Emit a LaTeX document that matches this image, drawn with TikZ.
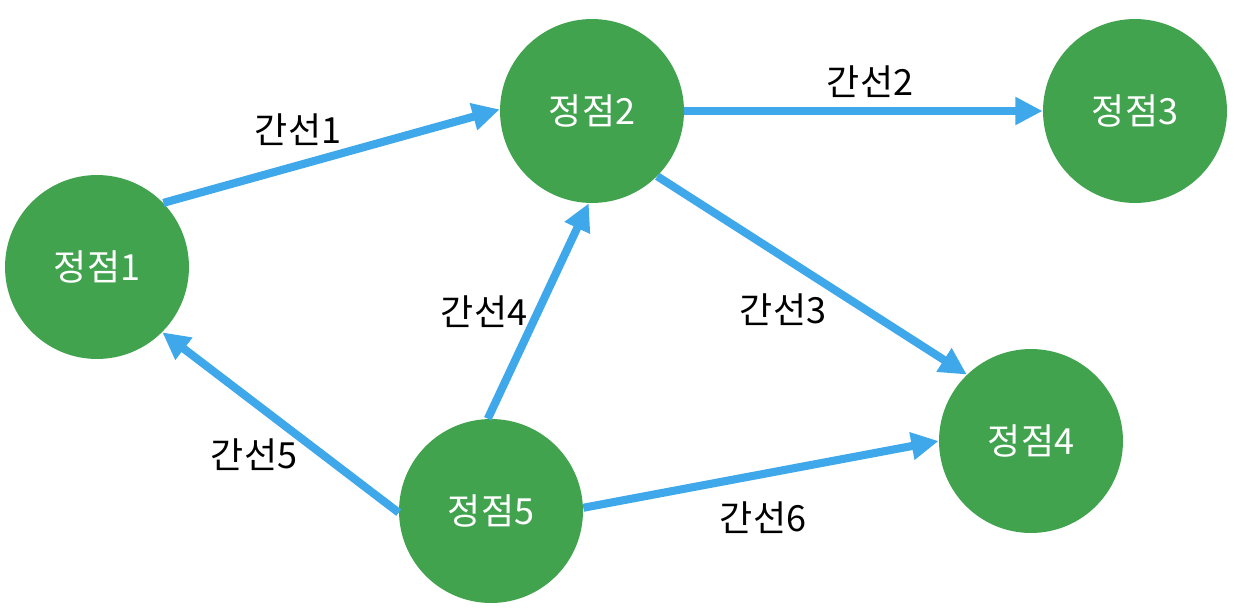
\documentclass[tikz,border=0pt]{standalone}
\usepackage{fontspec}
\setmainfont{Noto Sans CJK KR}
\usetikzlibrary{arrows.meta}
\definecolor{vgreen}{HTML}{42A34F}
\definecolor{eblue}{HTML}{3FA8EA}
\begin{document}
\begin{tikzpicture}[x=0.02cm,y=-0.02cm,
  vertex/.style={circle,fill=vgreen,draw=none,minimum size=3.68cm,inner sep=0pt,text=white,font=\fontsize{20.5}{23}\selectfont},
  edge/.style={draw=eblue,line width=4.6pt,-{Triangle[length=15.5pt,width=15pt]}},
  elabel/.style={font=\fontsize{20.5}{23}\selectfont,text=black}]
\useasboundingbox (0,0) rectangle (1234,608);
\node[vertex] (n1) at (97,267) {정점1};
\node[vertex] (n2) at (592,111) {정점2};
\node[vertex] (n3) at (1135,111) {정점3};
\node[vertex] (n4) at (1031,441) {정점4};
\node[vertex] (n5) at (491,511) {정점5};
\draw[edge] (n1.44) -- (n2.179);
\draw[edge] (n2.east) -- (n3.west);
\draw[edge] (n2.-45) -- (n4.134);
\draw[edge] (n5.92) -- (n2.268);
\draw[edge] (n5.181) -- (n1.-45);
\draw[edge] (n5.2) -- (n4.180);
\node[elabel] (l1) at (298,130) {간선1};
\node[elabel] (l2) at (870,82) {간선2};
\node[elabel] (l3) at (783,310) {간선3};
\node[elabel] (l4) at (484,312) {간선4};
\node[elabel] (l5) at (254,455) {간선5};
\node[elabel] (l6) at (763,518) {간선6};
\end{tikzpicture}
\end{document}
